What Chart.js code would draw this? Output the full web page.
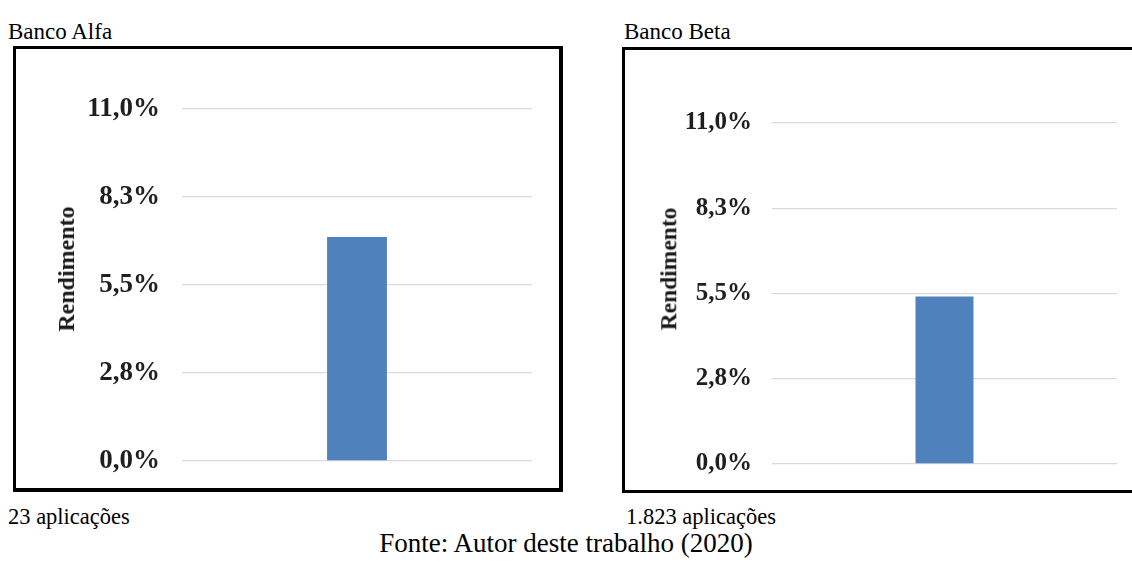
<!DOCTYPE html>
<html lang="pt-BR">
<head>
<meta charset="utf-8">
<title>Rendimento – Banco Alfa e Banco Beta</title>
<script src="https://cdn.jsdelivr.net/npm/chart.js@4/dist/chart.umd.min.js"></script>
<style>
  html, body { margin: 0; padding: 0; background: #fff; overflow: hidden; }
  body { width: 1132px; height: 566px; position: relative;
         font-family: "Liberation Serif", "Times New Roman", serif; color: #000; }
  .txt { position: absolute; line-height: 1; white-space: nowrap; font-size: 23px;
         font-family: "Liberation Serif", "Times New Roman", serif; }
  .box { position: absolute; box-sizing: border-box; background: #fff; border-style: solid; border-color: #000; }
  .ytitle { position: absolute; font-weight: bold; line-height: 1; white-space: nowrap;
            font-family: "Liberation Serif", "Times New Roman", serif;
            transform: translate(-50%, -50%) rotate(-90deg); color: #1a1a1a; }
  canvas { position: absolute; }
</style>
</head>
<body>
<div class="txt" style="left:8px; top:20px;">Banco Alfa</div>
<div class="txt" style="left:624px; top:20px;">Banco Beta</div>

<div class="box" style="left:13px; top:46px; width:550px; height:446px; border-width:3px 4px 4px 3px;"></div>
<!-- o quadro do Banco Beta segue além da borda direita da página -->
<div class="box" style="left:622px; top:47px; width:510px; height:446px; border-width:3px 0 3px 3px;"></div>

<canvas id="alfa" width="543" height="438" style="left:16px; top:49px; width:543px; height:438px;"></canvas>
<canvas id="beta" width="507" height="440" style="left:625px; top:50px; width:507px; height:440px;"></canvas>

<div class="ytitle" style="left:66px; top:269px; font-size:24px;">Rendimento</div>
<div class="ytitle" style="left:669px; top:269px; font-size:23.5px;">Rendimento</div>

<div class="txt" style="left:8px; top:506px; font-size:22.5px;">23 aplicações</div>
<div class="txt" style="left:626px; top:506px; font-size:22.5px;">1.823 aplicações</div>
<div class="txt" style="left:0; width:1132px; text-align:center; top:530px; font-size:27px;">Fonte: Autor deste trabalho (2020)</div>

<script>
// Valores de rendimento (%) por banco
const categorias = ["Rendimento"];
const rendimentoAlfa = [7.0];
const rendimentoBeta = [5.4];
// Eixo Y: 0% a 11%, em quatro passos
const eixoMin = 0;
const eixoMax = 11;
const eixoPasso = 2.75;

const formatoPct = v => v.toFixed(1).replace('.', ',') + '%';

function criarGrafico(id, valores, cfg) {
  return new Chart(document.getElementById(id), {
    type: 'bar',
    data: {
      labels: categorias,
      datasets: [{
        data: valores,
        backgroundColor: '#4f81bd',
        borderWidth: 0,
        categoryPercentage: 1,
        barPercentage: cfg.barra
      }]
    },
    options: {
      responsive: false,
      animation: false,
      devicePixelRatio: 1,
      layout: { padding: cfg.padding },
      plugins: { legend: { display: false }, tooltip: { enabled: false } },
      scales: {
        x: { display: false },
        y: {
          min: eixoMin,
          max: eixoMax,
          border: { display: false },
          grid: { color: '#d9d9d9', lineWidth: 1.3, drawTicks: false, tickLength: 0 },
          ticks: {
            stepSize: eixoPasso,
            padding: cfg.tickPad,
            color: '#1f1f1f',
            font: { family: '"Liberation Serif", serif', size: cfg.fonte, weight: 'bold' },
            callback: v => formatoPct(v)
          },
          afterFit: s => {
            // largura fixa do eixo; a área do gráfico é definida só pelo padding do layout
            s.width = cfg.largEixo;
            s.paddingTop = 0;
            s.paddingBottom = 0;
          }
        }
      }
    }
  });
}

criarGrafico('alfa', rendimentoAlfa, {
  padding: { top: 60, right: 27, bottom: 26, left: 0 },
  largEixo: 166, tickPad: 22, fonte: 27, barra: 0.171
});
criarGrafico('beta', rendimentoBeta, {
  padding: { top: 73, right: 15, bottom: 26, left: 0 },
  largEixo: 147, tickPad: 20, fonte: 25, barra: 0.168
});
</script>
</body>
</html>
